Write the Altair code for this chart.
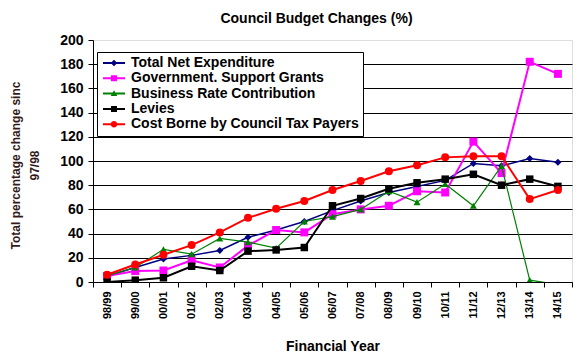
import altair as alt
import pandas as pd

years = ["98/99", "99/00", "00/01", "01/02", "02/03", "03/04", "04/05", "05/06", "06/07",
         "07/08", "08/09", "09/10", "10/11", "11/12", "12/13", "13/14", "14/15"]

series_names = ["Total Net Expenditure", "Government. Support Grants",
                "Business Rate Contribution", "Levies", "Cost Borne by Council Tax Payers"]

total_net = [5, 12, 19, 22, 26, 37, 43, 50, 59, 67, 74, 79, 84, 98, 96, 102, 99]
gov_grants = [5, 9, 9.5, 18, 12, 30, 43, 41, 56, 60, 63, 75, 74, 116, 90, 182, 172]
business = [5, 12, 27, 23, 36, 33, 28, 50, 54, 60, 75, 66, 81, 63, 96, 1.5, -2]
levies = [0, 1.5, 3.5, 13, 9.5, 25.5, 26.5, 28.5, 63, 69, 77, 82, 85, 89, 80, 85, 79]
council_tax = [6, 14.5, 22.5, 30.5, 41, 53, 60.5, 67, 76, 83.5, 91.5, 96.5, 103, 104, 104, 68.5, 76]

y_ticks = [0, 20, 40, 60, 80, 100, 120, 140, 160, 180, 200]

series_values = [total_net, gov_grants, business, levies, council_tax]

colors = ["#000080", "#FF00FF", "#008000", "#000000", "#FF0000"]
shapes = ["diamond", "square", "triangle-up", "square", "circle"]
sizes = [50, 64, 50, 56, 64]
widths = [1.5, 2, 1.2, 2, 2]

line_rect = "M-2,-0.18H2V0.18H-2Z "
legend_paths = [
    line_rect + "M0,-0.6L0.6,0L0,0.6L-0.6,0Z",
    line_rect + "M-0.55,-0.55H0.55V0.55H-0.55Z",
    line_rect + "M0,-0.6L0.6,0.45H-0.6Z",
    line_rect + "M-0.55,-0.55H0.55V0.55H-0.55Z",
    line_rect + "M-0.6,0A0.6,0.6 0 1,1 0.6,0A0.6,0.6 0 1,1 -0.6,0Z",
]

rows = []
for name, vals in zip(series_names, series_values):
    for yr, v in zip(years, vals):
        rows.append({"year": yr, "series": name, "value": v})
df = pd.DataFrame(rows)

FONT = "Liberation Sans"

x_enc = alt.X(
    "year:N",
    sort=years,
    scale=alt.Scale(type="band", domain=years, paddingInner=0, paddingOuter=0),
    axis=alt.Axis(
        title="Financial Year",
        labelAngle=270,
        labelFont=FONT, labelFontSize=11, labelFontWeight="bold", labelColor="black",
        labelPadding=4,
        tickBand="extent", tickSize=5, tickColor="black",
        domainColor="black", domainWidth=1,
        grid=False,
        titleFont=FONT, titleFontSize=14, titleFontWeight="bold", titleColor="black",
        titleBaseline="top", titleY=57,
    ),
)

y_enc = alt.Y(
    "value:Q",
    scale=alt.Scale(domain=[0, 200], nice=False, zero=False),
    axis=alt.Axis(
        title=["Total percentage change sinc", "97/98"],
        values=y_ticks,
        labelFont=FONT, labelFontSize=14, labelFontWeight="bold", labelColor="black",
        labelPadding=5,
        tickSize=5, tickColor="black",
        domainColor="black", domainWidth=1,
        grid=True, gridColor="black", gridWidth=1,
        gridOpacity={"condition": {"test": "datum.value >= 200", "value": 0}, "value": 1},
        titleFont=FONT, titleFontSize=12, titleFontWeight="bold", titleColor="#331a1a",
        titleAngle=270, titleAlign="center", titleBaseline="top",
        titleX=-83, titleY=125, titleLineHeight=19,
    ),
)

layers = []
for name, col, shp, sz, w in zip(series_names, colors, shapes, sizes, widths):
    sub = df[df["series"] == name]
    base = alt.Chart(sub)
    layers.append(base.mark_line(color=col, strokeWidth=w, clip=True).encode(x=x_enc, y=y_enc))
    layers.append(base.mark_point(filled=True, shape=shp, size=sz, color=col, opacity=1, clip=True)
                  .encode(x=x_enc, y=y_enc))

legend_props = dict(
    title=None, orient="none", legendX=4, legendY=12,
    labelFont=FONT, labelFontSize=14, labelFontWeight="bold", labelColor="black",
    labelLimit=0,
    symbolSize=121, symbolStrokeWidth=0, symbolOffset=6, labelOffset=10,
    strokeColor="black", fillColor="white", padding=4, rowPadding=1.3,
)

legend_layer = alt.Chart(df).transform_filter("false").mark_point(filled=True, opacity=1).encode(
    color=alt.Color("series:N", scale=alt.Scale(domain=series_names, range=colors),
                    legend=alt.Legend(**legend_props)),
    shape=alt.Shape("series:N", scale=alt.Scale(domain=series_names, range=legend_paths),
                    legend=alt.Legend(**legend_props)),
)

chart = alt.layer(*layers, legend_layer).properties(
    width=479, height=242,
    autosize=alt.AutoSizeParams(type="none"),
    padding={"left": 85, "top": 32, "right": 6, "bottom": 82},
    title=alt.TitleParams("Council Budget Changes (%)", font=FONT, fontSize=14,
                          fontWeight="bold", color="black", anchor="middle", dx=-16, offset=7),
).configure_view(stroke=None).configure(background="white")

chart.save("out.html", embed_options={"renderer": "svg", "actions": False})
